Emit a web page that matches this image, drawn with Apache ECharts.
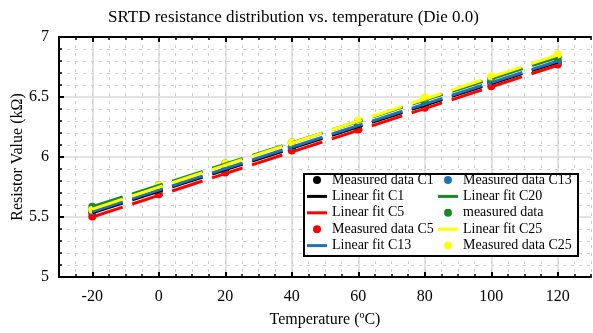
<!DOCTYPE html>
<html><head><meta charset="utf-8">
<script src="https://cdn.jsdelivr.net/npm/echarts@6/dist/echarts.min.js"></script>
<style>html,body{margin:0;padding:0;background:#fff}#c{width:593px;height:333px}</style>
</head><body><div id="c"></div>
<script>
// ---- data ----
const temps = [-20, 0, 20, 40, 60, 80, 100, 120];
const fitTemps = [-20, 120];
const measC1  = [5.54, 5.72, 5.90, 6.08, 6.26, 6.44, 6.62, 6.79];
const measC5  = [5.505, 5.69, 5.87, 6.055, 6.23, 6.41, 6.59, 6.77];
const measC13 = [5.55, 5.73, 5.91, 6.09, 6.27, 6.45, 6.63, 6.80];
const measC20 = [5.585, 5.765, 5.945, 6.12, 6.30, 6.48, 6.655, 6.83];
const measC25 = [5.56, 5.765, 5.945, 6.12, 6.305, 6.495, 6.67, 6.855];
const fitC1  = [5.535, 6.79];
const fitC5  = [5.50, 6.765];
const fitC13 = [5.545, 6.80];
const fitC20 = [5.585, 6.83];
const fitC25 = [5.565, 6.85];
const xTickLabels = [-20, 0, 20, 40, 60, 80, 100, 120];

const FONT = '"Liberation Serif", "Times New Roman", serif';
const zip = (xs, ys) => xs.map((x, i) => [x, ys[i]]);

const cBlack = '#000000', cRed = '#ff0000', cBlue = '#1f72b8', cGreen = '#17872a', cYellow = '#ffff00';
const LINE_ICON = 'path://M0,0h20v3h-20z';

function meas(name, data, color) {
  return { name, type: 'scatter', data: zip(temps, data), symbol: 'circle', symbolSize: 8,
    itemStyle: { color, opacity: 1 }, xAxisIndex: 0, yAxisIndex: 0 };
}
function fit(name, data, color) {
  return { name, type: 'line', data: zip(fitTemps, data), symbol: 'none', showSymbol: false,
    lineStyle: { color, width: 3, type: [32, 10], dashOffset: 0 }, itemStyle: { color }, xAxisIndex: 0, yAxisIndex: 0 };
}

const minorSplit = { show: true, lineStyle: { color: '#cfcfcf', width: 1, type: [3, 5] } };
const majorSplit = { show: true, lineStyle: { color: '#dadada', width: 1.5 } };

const chart = echarts.init(document.getElementById('c'), null, { renderer: 'canvas' });
const legendCommon = {
  orient: 'vertical', top: 173, padding: 0, itemGap: 2.4, itemWidth: 20, itemHeight: 8, z: 20,
  symbolKeepAspect: true,
  textStyle: { fontFamily: FONT, fontSize: 14, color: '#000' }
};
const li = (name, isLine) => isLine ? { name, icon: LINE_ICON } : { name, icon: 'circle' };
chart.setOption({
  animation: false,
  title: { text: 'SRTD resistance distribution vs. temperature (Die 0.0)', left: 103, top: 4,
    textStyle: { fontFamily: FONT, fontSize: 17, fontWeight: 'normal', color: '#000' } },
  grid: { left: 59, right: 2, top: 37, bottom: 56, containLabel: false, outerBoundsMode: 'none' },
  graphic: [{ type: 'rect', z: 15, shape: { x: 304, y: 174, width: 274, height: 82 },
    style: { fill: '#fff', stroke: '#000', lineWidth: 2 } }],
  legend: [
    Object.assign({}, legendCommon, { left: 307,
      data: [li('Measured data C1'), li('Linear fit C1', 1), li('Linear fit C5', 1), li('Measured data C5'), li('Linear fit C13', 1)] }),
    Object.assign({}, legendCommon, { left: 438,
      data: [li('Measured data C13'), li('Linear fit C20', 1), li('measured data'), li('Linear fit C25', 1), li('Measured data C25')] })
  ],
  xAxis: [
    { type: 'value', position: 'bottom', min: -30, max: 130,
      name: 'Temperature (ºC)', nameLocation: 'middle', nameGap: 35, nameMoveOverlap: false,
      nameTextStyle: { fontFamily: FONT, fontSize: 16, color: '#000' },
      axisLine: { show: true, onZero: false, lineStyle: { color: '#000', width: 2 } },
      axisTick: { show: true, inside: true, length: 5, lineStyle: { width: 2, color: '#000' }, customValues: xTickLabels },
      axisLabel: { fontFamily: FONT, fontSize: 16, color: '#000', margin: 12, customValues: xTickLabels },
      splitLine: majorSplit },
    { type: 'value', position: 'bottom', min: -30, max: 130, interval: 5,
      axisLine: { show: false }, axisLabel: { show: false },
      axisTick: { show: true, inside: true, length: 3, lineStyle: { width: 1.5, color: '#000' } },
      splitLine: minorSplit, z: 0 },
    { type: 'value', position: 'top', min: -30, max: 130,
      axisLine: { show: true, onZero: false, lineStyle: { color: '#000', width: 2 } },
      axisTick: { show: true, inside: true, length: 5, lineStyle: { width: 2, color: '#000' }, customValues: xTickLabels },
      axisLabel: { show: false, customValues: xTickLabels }, splitLine: { show: false } },
    { type: 'value', position: 'top', min: -30, max: 130, interval: 5,
      axisLine: { show: false }, axisLabel: { show: false },
      axisTick: { show: true, inside: true, length: 3, lineStyle: { width: 1.5, color: '#000' } },
      splitLine: { show: false } }
  ],
  yAxis: [
    { type: 'value', min: 5, max: 7, interval: 0.5, position: 'left',
      name: 'Resistor Value (kΩ)', nameLocation: 'middle', nameGap: 33, nameMoveOverlap: false,
      nameTextStyle: { fontFamily: FONT, fontSize: 16, color: '#000' },
      axisLine: { show: true, onZero: false, lineStyle: { color: '#000', width: 2 } },
      axisTick: { show: true, inside: true, length: 5, lineStyle: { width: 2, color: '#000' } },
      minorTick: { show: true, splitNumber: 5, length: 3, lineStyle: { width: 1.5, color: '#000' } },
      axisLabel: { fontFamily: FONT, fontSize: 16, color: '#000', margin: 10 },
      splitLine: majorSplit,
      minorSplitLine: minorSplit }
  ],
  series: [
    meas('Measured data C1', measC1, cBlack),
    fit('Linear fit C1', fitC1, cBlack),
    fit('Linear fit C5', fitC5, cRed),
    meas('Measured data C5', measC5, cRed),
    fit('Linear fit C13', fitC13, cBlue),
    meas('Measured data C13', measC13, cBlue),
    fit('Linear fit C20', fitC20, cGreen),
    meas('measured data', measC20, cGreen),
    fit('Linear fit C25', fitC25, cYellow),
    meas('Measured data C25', measC25, cYellow)
  ]
});
</script></body></html>
